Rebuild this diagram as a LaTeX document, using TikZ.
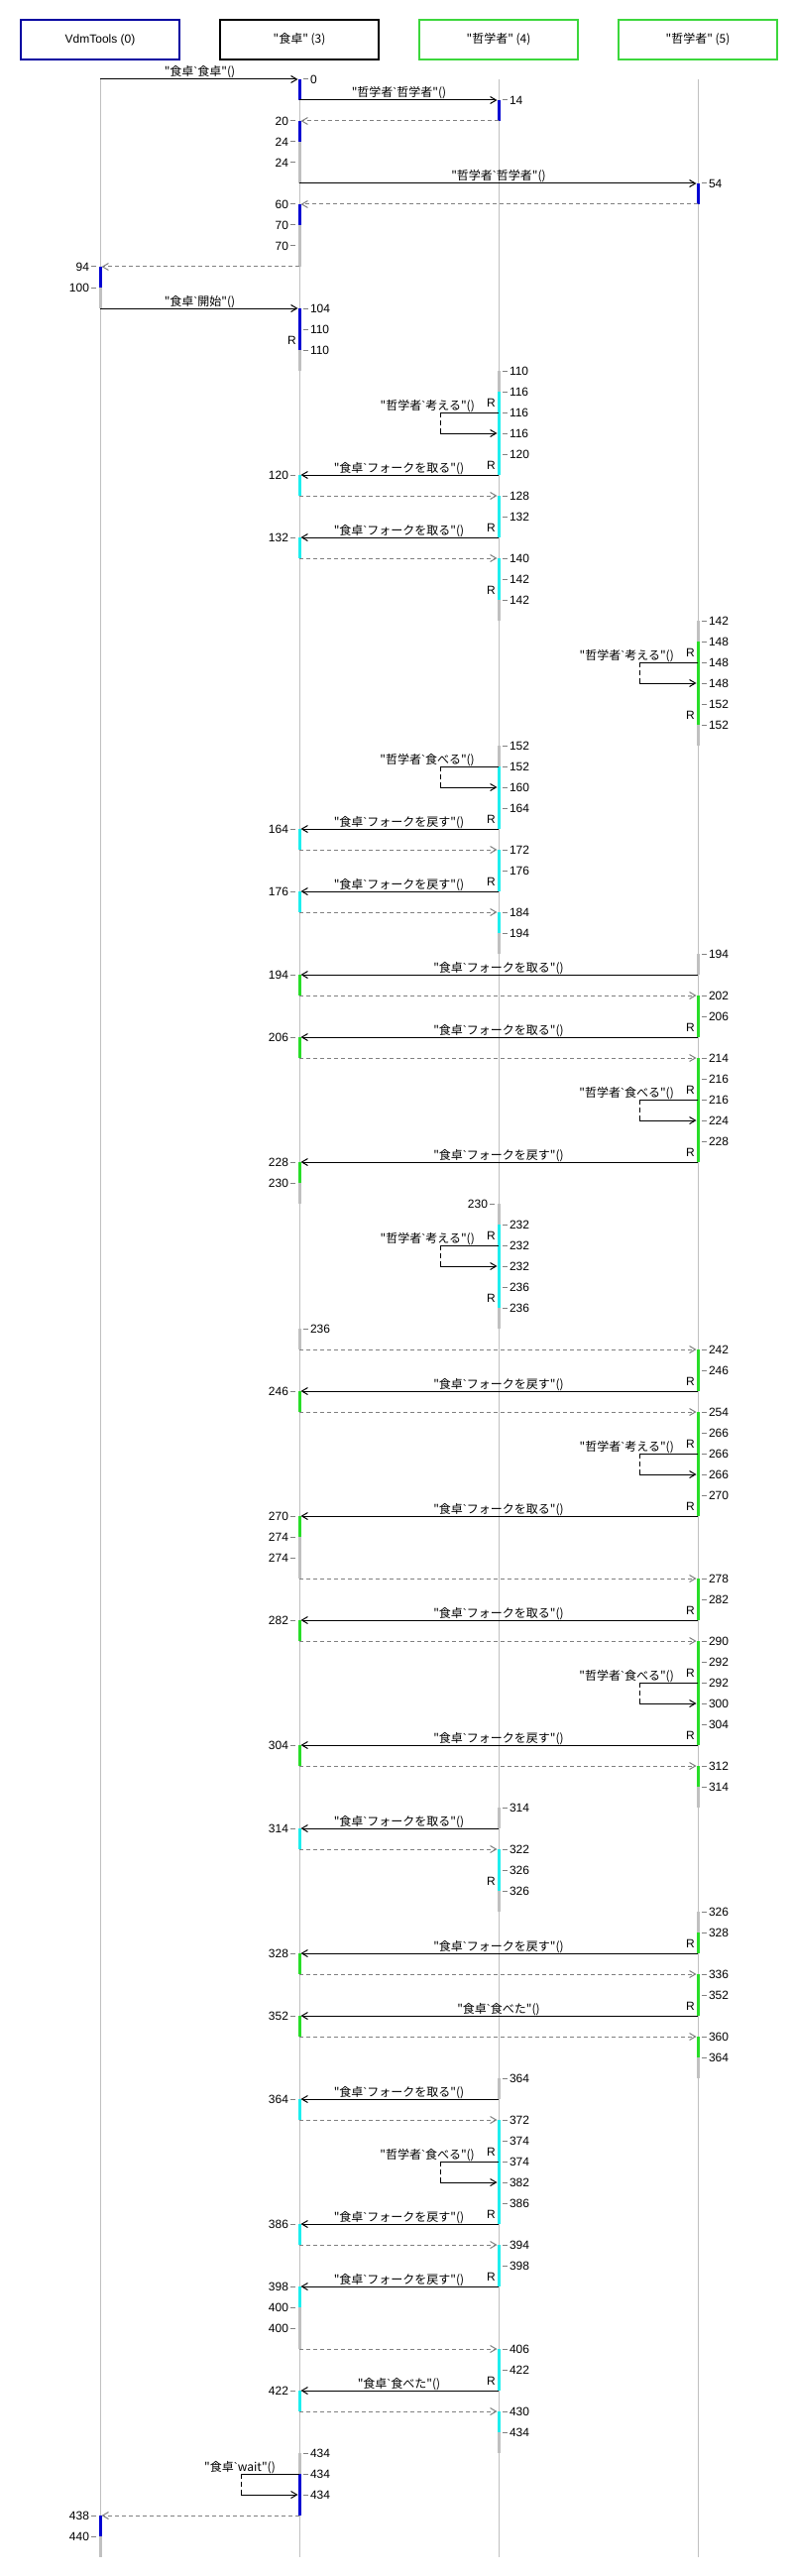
\documentclass[tikz,border=0pt]{standalone}
\usepackage{fontspec}
\setmainfont{Liberation Sans}
\newfontfamily\jp[Ligatures=TeXOff]{Noto Sans CJK JP}
\newfontfamily\lat[Ligatures=TeXOff]{Liberation Sans}
\usetikzlibrary{arrows.meta,positioning,calc}

\definecolor{vdmblue}{RGB}{0,0,160}
\definecolor{actblue}{RGB}{0,0,210}
\definecolor{actcyan}{RGB}{30,238,238}
\definecolor{actgreen}{RGB}{40,221,40}
\definecolor{boxgreen}{RGB}{60,215,60}
\definecolor{idle}{RGB}{192,192,192}
\definecolor{retgray}{RGB}{128,128,128}

\newcommand{\bq}{{\lat`}}
\newcommand{\forktake}{"食卓\bq フォークを取る"()}
\newcommand{\forkback}{"食卓\bq フォークを戻す"()}
\newcommand{\mealdone}{"食卓\bq 食べた"()}

\begin{document}
\begin{tikzpicture}[x=1pt, y=-1pt, node distance=39pt, font=\fontsize{12}{14}\selectfont,
    headbox/.style={rectangle, draw, line width=2pt, minimum width=160pt, minimum height=40pt, inner sep=2pt},
    lifeline/.style={draw=idle, line width=1pt},
    bar/.style={draw=#1, line width=3pt},
    plain/.style={draw=black, line width=1pt},
    call/.style={draw=black, line width=1pt, -{Straight Barb[length=6pt,width=7pt]}, shorten >=1.5pt},
    ret/.style={draw=retgray, line width=1pt, dash pattern=on 4pt off 3pt, -{Straight Barb[length=6pt,width=7pt]}, shorten >=1.5pt},
    loopdash/.style={draw=black, line width=1pt, dash pattern=on 5pt off 3pt},
    msg/.style={font=\jp\fontsize{12}{14}\selectfont, inner sep=0pt, anchor=base, yshift=3pt},
    numtick/.style={draw=gray, line width=1pt},
    numr/.style={anchor=west, inner sep=1.5pt},
    numl/.style={anchor=east, inner sep=1.5pt},
    rmark/.style={anchor=base east, inner sep=0pt}]
    \fill[white] (0,0) rectangle (800,2598);
    \useasboundingbox (0,0) rectangle (800,2598);

    % objects
    \node[headbox, draw=vdmblue] (vdm) at (101,40) {VdmTools (0)};
    \node[headbox, draw=black, right=of vdm] (tbl) {\jp "食卓" (3)};
    \node[headbox, draw=boxgreen, right=of tbl] (ph4) {\jp "哲学者" (4)};
    \node[headbox, draw=boxgreen, right=of ph4] (ph5) {\jp "哲学者" (5)};

    % one coordinate per row and lifeline
    \foreach \idx in {0,...,119} {
        \foreach \who in {vdm,tbl,ph4,ph5}
            \coordinate (\who-\idx) at ($(\who)+(0,40+21*\idx)$);
    }
    \foreach \who in {vdm,tbl,ph4,ph5}
        \draw[lifeline] (\who-0) -- (\who-119);

    % activation bars
    \foreach \who/\a/\b/\c in {vdm/9/10/actblue, vdm/10/11/idle, vdm/117/118/actblue, vdm/118/119/idle,
        tbl/0/1/actblue, tbl/2/3/actblue, tbl/3/5/idle, tbl/6/7/actblue, tbl/7/9/idle, tbl/11/13/actblue, tbl/13/14/idle,
        tbl/19/20/actcyan, tbl/22/23/actcyan, tbl/36/37/actcyan, tbl/39/40/actcyan,
        tbl/43/44/actgreen, tbl/46/47/actgreen, tbl/52/53/actgreen, tbl/53/54/idle,
        tbl/60/61/idle, tbl/63/64/actgreen, tbl/69/70/actgreen, tbl/70/72/idle,
        tbl/74/75/actgreen, tbl/80/81/actgreen, tbl/84/85/actcyan, tbl/90/91/actgreen, tbl/93/94/actgreen,
        tbl/97/98/actcyan, tbl/103/104/actcyan, tbl/106/107/actcyan, tbl/107/109/idle, tbl/111/112/actcyan,
        tbl/114/115/idle, tbl/115/117/actblue,
        ph4/1/2/actblue, ph4/14/15/idle, ph4/15/19/actcyan, ph4/20/22/actcyan, ph4/23/25/actcyan, ph4/25/26/idle,
        ph4/32/33/idle, ph4/33/36/actcyan, ph4/37/39/actcyan, ph4/40/41/actcyan, ph4/41/42/idle,
        ph4/54/55/idle, ph4/55/59/actcyan, ph4/59/60/idle,
        ph4/83/84/idle, ph4/85/87/actcyan, ph4/87/88/idle,
        ph4/96/97/idle, ph4/98/103/actcyan, ph4/104/106/actcyan, ph4/109/111/actcyan, ph4/112/113/actcyan, ph4/113/114/idle,
        ph5/5/6/actblue, ph5/26/27/idle, ph5/27/31/actgreen, ph5/31/32/idle,
        ph5/42/43/idle, ph5/44/46/actgreen, ph5/47/52/actgreen,
        ph5/61/63/actgreen, ph5/64/69/actgreen, ph5/72/74/actgreen, ph5/75/80/actgreen, ph5/81/82/actgreen, ph5/82/83/idle,
        ph5/88/89/idle, ph5/89/90/actgreen, ph5/91/93/actgreen, ph5/94/95/actgreen, ph5/95/96/idle}
        \draw[bar=\c] (\who-\a) -- (\who-\b);

    % calls
    \foreach \src/\dst/\row/\lab in {vdm/tbl/0/"食卓\bq 食卓"(), tbl/ph4/1/"哲学者\bq 哲学者"(), tbl/ph5/5/"哲学者\bq 哲学者"(),
        vdm/tbl/11/"食卓\bq 開始"(),
        ph4/tbl/19/\forktake, ph4/tbl/22/\forktake, ph4/tbl/36/\forkback, ph4/tbl/39/\forkback,
        ph5/tbl/43/\forktake, ph5/tbl/46/\forktake, ph5/tbl/52/\forkback, ph5/tbl/63/\forkback,
        ph5/tbl/69/\forktake, ph5/tbl/74/\forktake, ph5/tbl/80/\forkback, ph4/tbl/84/\forktake,
        ph5/tbl/90/\forkback, ph5/tbl/93/\mealdone, ph4/tbl/97/\forktake, ph4/tbl/103/\forkback,
        ph4/tbl/106/\forkback, ph4/tbl/111/\mealdone}
        \draw[call] (\src-\row) -- node[msg] {\lab} (\dst-\row);

    % returns
    \foreach \src/\dst/\row in {ph4/tbl/2, ph5/tbl/6, tbl/vdm/9, tbl/ph4/20, tbl/ph4/23, tbl/ph4/37, tbl/ph4/40,
        tbl/ph5/44, tbl/ph5/47, tbl/ph5/61, tbl/ph5/64, tbl/ph5/72, tbl/ph5/75, tbl/ph5/81, tbl/ph4/85,
        tbl/ph5/91, tbl/ph5/94, tbl/ph4/98, tbl/ph4/104, tbl/ph4/109, tbl/ph4/112, tbl/vdm/117}
        \draw[ret] (\src-\row) -- (\dst-\row);

    % self calls
    \foreach \who/\row/\lab in {ph4/16/"哲学者\bq 考える"(), ph5/28/"哲学者\bq 考える"(), ph4/33/"哲学者\bq 食べる"(),
        ph5/49/"哲学者\bq 食べる"(), ph4/56/"哲学者\bq 考える"(), ph5/66/"哲学者\bq 考える"(),
        ph5/77/"哲学者\bq 食べる"(), ph4/100/"哲学者\bq 食べる"(), tbl/115/"食卓\bq wait"()} {
        \pgfmathtruncatemacro\nxt{\row+1}
        \draw[plain] (\who-\row) -- ($(\who-\row)+(-59,0)$);
        \draw[loopdash] ($(\who-\row)+(-59,0)$) -- ($(\who-\nxt)+(-59,0)$);
        \draw[call] ($(\who-\nxt)+(-59,0)$) -- (\who-\nxt);
        \node[msg, anchor=base east] at ($(\who-\row)+(-24,0)$) {\lab};
    }

    % time stamps
    \foreach \who/\row/\val in {tbl/0/0, ph4/1/14, ph5/5/54, tbl/11/104, tbl/12/110, tbl/13/110,
        ph4/14/110, ph4/15/116, ph4/16/116, ph4/17/116, ph4/18/120, ph4/20/128, ph4/21/132, ph4/23/140, ph4/24/142, ph4/25/142,
        ph5/26/142, ph5/27/148, ph5/28/148, ph5/29/148, ph5/30/152, ph5/31/152,
        ph4/32/152, ph4/33/152, ph4/34/160, ph4/35/164, ph4/37/172, ph4/38/176, ph4/40/184, ph4/41/194,
        ph5/42/194, ph5/44/202, ph5/45/206, ph5/47/214, ph5/48/216, ph5/49/216, ph5/50/224, ph5/51/228,
        ph4/55/232, ph4/56/232, ph4/57/232, ph4/58/236, ph4/59/236, tbl/60/236,
        ph5/61/242, ph5/62/246, ph5/64/254, ph5/65/266, ph5/66/266, ph5/67/266, ph5/68/270, ph5/72/278, ph5/73/282,
        ph5/75/290, ph5/76/292, ph5/77/292, ph5/78/300, ph5/79/304, ph5/81/312, ph5/82/314,
        ph4/83/314, ph4/85/322, ph4/86/326, ph4/87/326,
        ph5/88/326, ph5/89/328, ph5/91/336, ph5/92/352, ph5/94/360, ph5/95/364,
        ph4/96/364, ph4/98/372, ph4/99/374, ph4/100/374, ph4/101/382, ph4/102/386, ph4/104/394, ph4/105/398,
        ph4/109/406, ph4/110/422, ph4/112/430, ph4/113/434, tbl/114/434, tbl/115/434, tbl/116/434}
        \draw[numtick] ($(\who-\row)+(4,0)$) -- ++(5,0) node[numr] {\val};
    \foreach \who/\row/\val in {tbl/2/20, tbl/3/24, tbl/4/24, tbl/6/60, tbl/7/70, tbl/8/70, vdm/9/94, vdm/10/100,
        tbl/19/120, tbl/22/132, tbl/36/164, tbl/39/176, tbl/43/194, tbl/46/206, tbl/52/228, tbl/53/230, ph4/54/230,
        tbl/63/246, tbl/69/270, tbl/70/274, tbl/71/274, tbl/74/282, tbl/80/304, tbl/84/314, tbl/90/328, tbl/93/352,
        tbl/97/364, tbl/103/386, tbl/106/398, tbl/107/400, tbl/108/400, tbl/111/422, vdm/117/438, vdm/118/440}
        \draw[numtick] ($(\who-\row)+(-4,0)$) -- ++(-5,0) node[numl] {\val};

    % R marks
    \foreach \who/\row in {tbl/13, ph4/16, ph4/19, ph4/22, ph4/25, ph5/28, ph5/31, ph4/36, ph4/39, ph5/46, ph5/49,
        ph5/52, ph4/56, ph4/59, ph5/63, ph5/66, ph5/69, ph5/74, ph5/77, ph5/80, ph4/87, ph5/90, ph5/93,
        ph4/100, ph4/103, ph4/106, ph4/111}
        \node[rmark] at ($(\who-\row)+(-3,-6)$) {R};
\end{tikzpicture}
\end{document}
